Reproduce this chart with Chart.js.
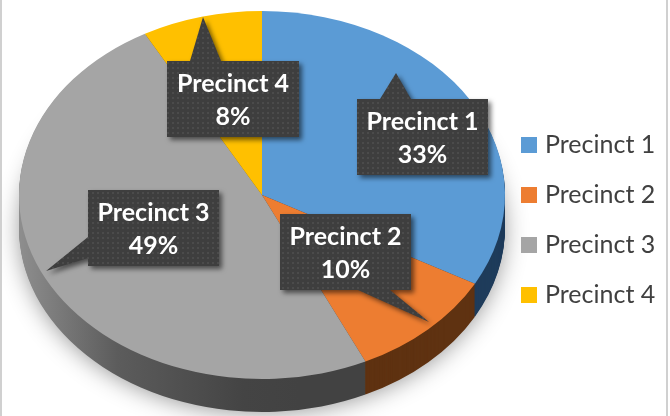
<!DOCTYPE html>
<html>
<head>
<meta charset="utf-8">
<script src="https://cdn.jsdelivr.net/npm/chart.js@4.4.1/dist/chart.umd.min.js"></script>
<style>
html,body{margin:0;padding:0;background:#fff;overflow:hidden}
canvas{display:block}
</style>
</head>
<body>
<canvas id="c" width="670" height="416"></canvas>
<script>
// ---- data ----
const categories = ['Precinct 1', 'Precinct 2', 'Precinct 3', 'Precinct 4'];
const shares = [33, 10, 49, 8];
const topColors = ['#5B9BD5', '#ED7D31', '#A5A5A5', '#FFC000'];
const sideColors = ['#1F3C5B', '#5F3211', null, '#7F6000']; // null -> gradient (grey side)

const total = shares.reduce((a, b) => a + b, 0);
const percentLabels = shares.map(v => Math.round(v / total * 100) + '%');

// ---- layout (not data) ----
const GEOM = { cx: 262, cy: 195, rx: 243, ry: 184, depth: 33 };
const calloutLayout = [
  { l: 357, t: 99,  w: 131, h: 76, side: 'top',    base: [380, 411], tip: [396, 73] },
  { l: 280, t: 214, w: 131, h: 76, side: 'bottom', base: [390, 358], tip: [429, 322] },
  { l: 88,  t: 190, w: 131, h: 76, side: 'left',   base: [258, 237], tip: [46, 271] },
  { l: 167, t: 61,  w: 132, h: 76, side: 'top',    base: [190, 221], tip: [203, 17] }
];
const LEGEND = { x: 521, y: 137, box: 16, gap: 8, step: 50 };

function pieTransform(ctx, ref, dy) {
  ctx.translate(GEOM.cx, GEOM.cy + dy);
  ctx.scale(GEOM.rx / ref.outerRadius, GEOM.ry / ref.outerRadius);
  ctx.translate(-ref.x, -ref.y);
}

const pie3d = {
  id: 'pie3d',
  beforeDatasetsDraw(chart) {
    const ctx = chart.ctx;
    const arcs = chart.getDatasetMeta(0).data;
    const ref = arcs[0];
    // soft drop shadow under the pie
    ctx.save();
    ctx.beginPath();
    ctx.ellipse(GEOM.cx, GEOM.cy + GEOM.depth - 2, GEOM.rx - 2, GEOM.ry - 2, 0, 0, Math.PI * 2);
    ctx.shadowColor = 'rgba(0,0,0,0.45)';
    ctx.shadowBlur = 24;
    ctx.shadowOffsetY = 4;
    ctx.fillStyle = '#fff';
    ctx.fill();
    ctx.restore();

    const k = GEOM.rx / ref.outerRadius;
    const toArcX = sx => ref.x + (sx - GEOM.cx) / k;
    const grey = ctx.createLinearGradient(toArcX(19), 0, toArcX(300), 0);
    grey.addColorStop(0, '#8E8E8E');
    grey.addColorStop(0.35, '#5C5C5C');
    grey.addColorStop(0.8, '#444444');
    grey.addColorStop(1, '#424242');
    const fills = sideColors.map(c => c || grey);

    for (let d = GEOM.depth; d >= 1; d--) {
      ctx.save();
      pieTransform(ctx, ref, d);
      arcs.forEach((arc, i) => {
        const orig = arc.options;
        arc.options = Object.assign({}, orig, { backgroundColor: fills[i] });
        arc.draw(ctx);
        arc.options = orig;
      });
      ctx.restore();
    }
    ctx.save();
    pieTransform(ctx, ref, 0);
  },
  afterDatasetsDraw(chart) {
    chart.ctx.restore();
  }
};

function makePattern(ctx) {
  const p = document.createElement('canvas');
  p.width = 5; p.height = 5;
  const g = p.getContext('2d');
  g.fillStyle = '#3E3E3E';
  g.fillRect(0, 0, 5, 5);
  g.fillStyle = '#4B4B4B';
  g.fillRect(2, 2, 2, 2);
  return ctx.createPattern(p, 'repeat');
}

const overlay = {
  id: 'overlay',
  afterDraw(chart) {
    const ctx = chart.ctx;
    const pattern = makePattern(ctx);
    calloutLayout.forEach((c, i) => {
      const r = c.l + c.w, b = c.t + c.h;
      ctx.save();
      ctx.beginPath();
      ctx.moveTo(c.l, c.t);
      if (c.side === 'top') { ctx.lineTo(c.base[0], c.t); ctx.lineTo(c.tip[0], c.tip[1]); ctx.lineTo(c.base[1], c.t); }
      ctx.lineTo(r, c.t);
      ctx.lineTo(r, b);
      if (c.side === 'bottom') { ctx.lineTo(c.base[0], b); ctx.lineTo(c.tip[0], c.tip[1]); ctx.lineTo(c.base[1], b); }
      ctx.lineTo(c.l, b);
      if (c.side === 'left') { ctx.lineTo(c.l, c.base[0]); ctx.lineTo(c.tip[0], c.tip[1]); ctx.lineTo(c.l, c.base[1]); }
      ctx.closePath();
      ctx.shadowColor = 'rgba(0,0,0,0.55)';
      ctx.shadowBlur = 5;
      ctx.shadowOffsetX = 3;
      ctx.shadowOffsetY = 3;
      ctx.fillStyle = pattern;
      ctx.fill();
      ctx.restore();

      ctx.save();
      ctx.fillStyle = '#FFFFFF';
      ctx.font = 'bold 25px Lato';
      ctx.textAlign = 'center';
      ctx.textBaseline = 'alphabetic';
      const mx = c.l + c.w / 2;
      ctx.fillText(categories[i], mx, c.t + 31);
      ctx.fillText(percentLabels[i], mx, c.t + 64);
      ctx.restore();
    });

    // legend
    ctx.save();
    ctx.font = '25px Lato';
    ctx.textBaseline = 'alphabetic';
    ctx.textAlign = 'left';
    categories.forEach((name, i) => {
      const y = LEGEND.y + i * LEGEND.step;
      ctx.fillStyle = topColors[i];
      ctx.fillRect(LEGEND.x, y, LEGEND.box, LEGEND.box);
      ctx.fillStyle = '#404040';
      ctx.fillText(name, LEGEND.x + LEGEND.box + LEGEND.gap, y + LEGEND.box);
    });
    ctx.restore();

    // frame edges
    ctx.save();
    ctx.fillStyle = '#D0D0D0';
    ctx.fillRect(0, 0, 2, chart.height);
    ctx.fillRect(666, 0, 2, chart.height);
    ctx.restore();
  }
};

new Chart(document.getElementById('c'), {
  type: 'pie',
  data: {
    labels: categories,
    datasets: [{
      data: shares,
      backgroundColor: topColors,
      borderWidth: 0,
      clip: false
    }]
  },
  options: {
    responsive: false,
    devicePixelRatio: 1,
    animation: false,
    events: [],
    layout: { padding: 0 },
    plugins: {
      legend: { display: false },
      tooltip: { enabled: false }
    }
  },
  plugins: [pie3d, overlay]
});
</script>
</body>
</html>
